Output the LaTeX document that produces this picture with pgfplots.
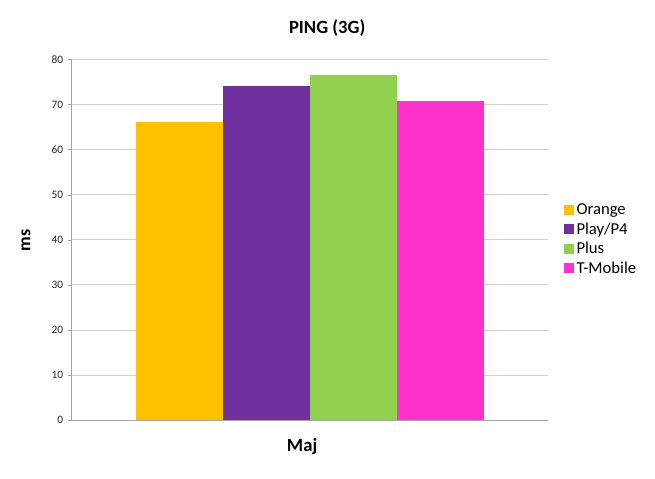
\documentclass[border=0pt]{standalone}
\usepackage{fontspec}
\setmainfont{Carlito}
\usepackage{pgfplots}
\pgfplotsset{compat=1.18}
\definecolor{cOrange}{HTML}{FFC000}
\definecolor{cPlay}{HTML}{7030A0}
\definecolor{cPlus}{HTML}{92D050}
\definecolor{cTM}{HTML}{FF33CC}
\definecolor{gridc}{HTML}{D0D0D0}
\definecolor{axc}{HTML}{A6A6A6}
\begin{document}
\begin{tikzpicture}
\begin{axis}[
  scale only axis,
  width=357pt, height=270.5pt,
  ybar, bar width=1,
  xmin=-2.74, xmax=2.74,
  ymin=0, ymax=80,
  ytick={0,10,...,80},
  xtick=\empty,
  axis x line*=bottom, axis y line*=left,
  axis line style={axc, line width=0.6pt},
  ymajorgrids, grid style={gridc, line width=0.6pt},
  y axis line style={-}, x axis line style={-},
  major tick style={axc},
  ytick style={axc}, tick align=outside, major tick length=3pt,
  /pgf/number format/assume math mode=true,
  yticklabel style={font=\fontsize{8.5}{10}\selectfont, color=black!85},
  legend style={draw=none, at={(1.03,0.5)}, anchor=west, font=\fontsize{12.5}{14}\selectfont,
    row sep=0.5pt, legend cell align=left, inner xsep=1pt},
  legend image code/.code={\fill[#1] (0pt,-3.5pt) rectangle (7.5pt,4pt);},
]
\addplot[fill=cOrange, draw=none, bar shift=0pt] coordinates {(-1.5,66.1)};
\addlegendentry{Orange}
\addplot[fill=cPlay, draw=none, bar shift=0pt] coordinates {(-0.5,74.1)};
\addlegendentry{Play/P4}
\addplot[fill=cPlus, draw=none, bar shift=0pt] coordinates {(0.5,76.5)};
\addlegendentry{Plus}
\addplot[fill=cTM, draw=none, bar shift=0pt] coordinates {(1.5,70.7)};
\addlegendentry{T-Mobile}
\end{axis}
\node[font=\bfseries\fontsize{14}{16}\selectfont] at (191.5pt,294pt) {PING (3G)};
\node[font=\bfseries\fontsize{14}{16}\selectfont] at (172.7pt,-20pt) {Maj};
\node[font=\bfseries\fontsize{13.5}{15}\selectfont, rotate=90] at (-34.3pt,135pt) {ms};
\path[use as bounding box] (-53.8pt,-43.5pt) rectangle (437.25pt,315pt);
\end{tikzpicture}
\end{document}
